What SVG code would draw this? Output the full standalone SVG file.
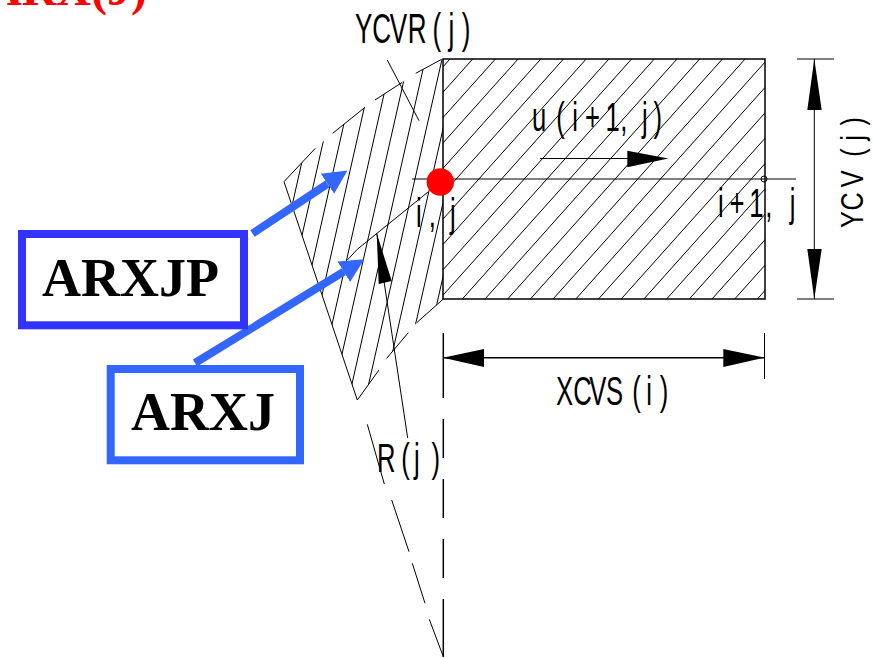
<svg xmlns="http://www.w3.org/2000/svg" width="873" height="658" viewBox="0 0 873 658">
<style>
text{font-family:"Liberation Sans",Arial,sans-serif;fill:#000}
.cad{font-size:40px}
.box{font-family:"Liberation Serif","Times New Roman",serif;font-weight:bold;font-size:54px}
.thin{fill:none;stroke:#000;stroke-width:1}
.mid{fill:none;stroke:#000;stroke-width:1.5}
.head{fill:#000;stroke:none}
.pointer{fill:none;stroke:#3366ff;stroke-width:8;marker-end:url(#blue)}
</style>
<defs>
<clipPath id="rectClip"><rect x="443" y="59" width="322" height="240"/></clipPath>
<clipPath id="wedgeClip"><polygon points="443,59 415.7,73.3 402.3,82.3 375,100 365,107.3 332.7,133.3 315.3,148.3 284,181.7 357.3,400 379,370 386.7,358.3 408.3,332.7 416.7,322.7 443.3,299"/></clipPath>
<marker id="blue" markerUnits="userSpaceOnUse" markerWidth="26" markerHeight="26" refX="0" refY="12" orient="auto"><path d="M0 0L24 12L0 24z" fill="#3366ff"/></marker>
</defs>
<rect width="873" height="658" fill="#fff"/>
<text id="title" x="147" y="5" text-anchor="end" style="font-family:'Liberation Serif','Times New Roman',serif;font-weight:bold;font-size:48px;fill:#ff0000">ARX(J)</text>
<g id="cell-rect">
<path class="thin" clip-path="url(#rectClip)" d="M450 59L235.3 299M472.7 59L258 299M495.4 59L280.7 299M518.1 59L303.4 299M540.8 59L326.1 299M563.5 59L348.8 299M586.2 59L371.5 299M608.9 59L394.2 299M631.6 59L416.9 299M654.3 59L439.6 299M677 59L462.3 299M699.7 59L485 299M722.4 59L507.7 299M745.1 59L530.4 299M767.8 59L553.1 299M790.5 59L575.8 299M813.2 59L598.5 299M835.9 59L621.2 299M858.6 59L643.9 299M881.3 59L666.6 299M904 59L689.3 299M926.7 59L712 299M949.4 59L734.7 299M972.1 59L757.4 299"/>
<rect class="mid" x="443" y="59" width="322" height="240"/>
</g>
<g id="cell-wedge">
<path class="thin" clip-path="url(#wedgeClip)" d="M327.2 50L245.9 410M343.9 50L262.6 410M360.6 50L279.3 410M377.3 50L296 410M394 50L312.7 410M410.7 50L329.4 410M427.4 50L346.1 410M444.1 50L362.8 410M460.8 50L379.5 410M477.5 50L396.2 410M494.2 50L412.9 410"/>
<path class="thin" d="M441.7 59.3L415.7 73.3M402.3 82.3L375 100M365 107.3L332.7 133.3M315.3 148.3L284 181.7L357.3 400L379 370M386.7 358.3L408.3 332.7M416.7 322.7L443.3 299"/>
</g>
<g id="connectors">
<path class="thin" d="M387.3 60L419 120.7"/>
<path class="thin" d="M347.3 260Q356 249 370 239L428 192"/>
<path class="thin" d="M376.7 233L407.7 438"/>
<polygon class="head" points="376.7,233 378.7,284 391.7,281"/>
<path class="thin" d="M412 179H796"/>
<circle class="thin" cx="764" cy="179" r="3"/>
<path class="thin" d="M540 158.5H630"/>
<polygon class="head" points="627.3,150.7 668.3,158.5 627.3,167.3"/>
<path class="thin" d="M814.3 59V299M797 59H834M797 299H834"/>
<polygon class="head" points="814.3,59 807.3,110 821.7,110"/>
<polygon class="head" points="814.3,299 807.3,249 821.7,249"/>
<path class="mid" d="M443.3 333V398M443.3 419V458M443.3 479V518M443.3 539V578M443.3 599V657"/>
<path class="thin" d="M764.5 333V379"/>
<path class="mid" d="M443 357.7H765"/>
<polygon class="head" points="443,357.7 484,349 484,367"/>
<polygon class="head" points="764.5,357.7 723.3,349 723.3,367"/>
<path class="thin" d="M367.3 424.3L384.3 484M391.7 500L409 551.7M412.3 563.3L425 603.3M429.3 619.3L443.3 656.7"/>
<line class="pointer" x1="252.5" y1="233.5" x2="327.5" y2="183.8"/>
<line class="pointer" x1="195" y1="363" x2="343.8" y2="271.7"/>
</g>
<g id="node-point"><circle cx="440.3" cy="182" r="13.7" fill="#ff0000"/></g>
<g id="node-arxjp">
<rect x="22" y="234" width="222" height="91.3" fill="none" stroke="#3333ff" stroke-width="8"/>
<text class="box" x="42" y="296">ARXJP</text>
</g>
<g id="node-arxj">
<rect x="110.7" y="369" width="189.3" height="91.3" fill="none" stroke="#3366ff" stroke-width="8"/>
<text class="box" x="131" y="430">ARXJ</text>
</g>
<g id="labels">
<text class="cad" transform="translate(355 43) scale(.62 1)" x="0 28 56 85 125 151 172" style="font-size:42px">YCVR(j)</text>
<text class="cad" transform="translate(532 131) scale(.64 1)" x="0 38 63 83 115 138 153 172 190">u(i+1, j)</text>
<text class="cad" transform="translate(416 227) scale(.64 1)" x="0 20 34 53">i, j</text>
<text class="cad" transform="translate(718 217) scale(.64 1)" x="0 18 49 74 86 112">i+1, j</text>
<text class="cad" transform="translate(556 405) scale(.64 1)" x="0 27 52 78 119 141 162">XCVS(i)</text>
<text class="cad" transform="translate(377 472) scale(.64 1)" x="0 38 58 85">R(j)</text>
<text transform="translate(863 228) rotate(-90) scale(.8 1)" x="0 22 51 89 109 128" style="font-size:31.5px">YCV(j)</text>
</g>
</svg>
